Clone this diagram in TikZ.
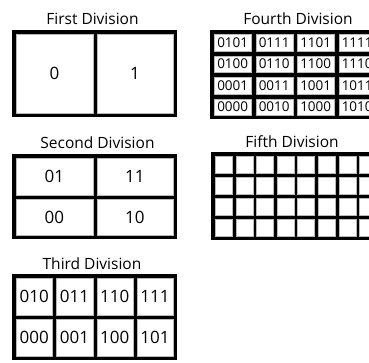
\documentclass[tikz,border=0pt]{standalone}
\usepackage{fontspec}
\setmainfont{Open Sans}
\begin{document}
\begin{tikzpicture}[x=1pt,y=-1pt,
  title/.style={anchor=base,inner sep=0,font=\fontsize{15.5}{18}\selectfont},
  blackbox/.style={fill=black,draw=none,inner sep=0,anchor=north west},
  cellbox/.style={fill=white,draw=gray!55,line width=0.4pt,inner sep=0,anchor=north west}]
\useasboundingbox (0,0) rectangle (369,362);
\clip (0,0) rectangle (369,362);
% #1 x0 #2 y0 #3 x1 #4 y1 #5 cols #6 rows #7 gapx #8 gapy
\newcommand{\setdiv}[8]{%
  \pgfmathsetmacro\dx{#1+4}\pgfmathsetmacro\dy{#2+4}%
  \pgfmathsetmacro\cw{(#3-#1-8-(#5-1)*#7)/#5}%
  \pgfmathsetmacro\ch{(#4-#2-8-(#6-1)*#8)/#6}%
  \pgfmathsetmacro\gx{#7}\pgfmathsetmacro\gy{#8}}
\newcommand{\mkcell}[5]{% name col row font text
  \node[cellbox,minimum width=\cw pt,minimum height=\ch pt,font=#4] (#1) at ({\dx+(#2)*(\cw+\gx)},{\dy+(#3)*(\ch+\gy)}) {#5};}
\def\digf{\fontsize{17}{20}\selectfont}
\def\smf{\fontsize{13.5}{16}\selectfont}

% First Division
\node[title] (t1) at (92.5,24) {First Division};
\node[blackbox,minimum width=165pt,minimum height=87.5pt] (d1) at (12,29.5) {};
\setdiv{12}{29.5}{177}{117}{2}{1}{4}{4}
\mkcell{d1a}{0}{0}{\digf}{0}
\mkcell{d1b}{1}{0}{\digf}{1}

% Second Division
\node[title] (t2) at (97.5,148.5) {Second Division};
\node[blackbox,minimum width=165pt,minimum height=85pt] (d2) at (12,154) {};
\setdiv{12}{154}{177}{239}{2}{2}{4}{4}
\foreach \c/\r/\t [count=\k] in {0/0/01,1/0/11,0/1/00,1/1/10}
  {\mkcell{d2c\k}{\c}{\r}{\digf}{\t}}

% Third Division
\node[title] (t3) at (92,269) {Third Division};
\node[blackbox,minimum width=165pt,minimum height=86pt] (d3) at (12,274) {};
\setdiv{12}{274}{177}{360}{4}{2}{4}{4}
\foreach \c/\r/\t [count=\k] in {0/0/010,1/0/011,2/0/110,3/0/111,0/1/000,1/1/001,2/1/100,3/1/101}
  {\mkcell{d3c\k}{\c}{\r}{\digf}{\t}}

% Fourth Division
\node[title] (t4) at (298,24) {Fourth Division};
\node[blackbox,minimum width=169.5pt,minimum height=89pt] (d4) at (210,30) {};
\setdiv{210}{30}{379.5}{119}{4}{4}{4.5}{5}
\foreach \c/\r/\t [count=\k] in {0/0/0101,1/0/0111,2/0/1101,3/0/1111,
  0/1/0100,1/1/0110,2/1/1100,3/1/1110,
  0/2/0001,1/2/0011,2/2/1001,3/2/1011,
  0/3/0000,1/3/0010,2/3/1000,3/3/1010}
  {\mkcell{d4c\k}{\c}{\r}{\smf}{\t}}

% Fifth Division
\node[title] (t5) at (292,147.5) {Fifth Division};
\node[blackbox,minimum width=169.2pt,minimum height=88pt] (d5) at (211,152) {};
\setdiv{211}{152}{380.2}{240}{8}{4}{3.6}{3.6}
\foreach \r in {0,...,3}
  \foreach \c in {0,...,7}
    {\mkcell{d5c\r\c}{\c}{\r}{\smf}{}}
\end{tikzpicture}
\end{document}
